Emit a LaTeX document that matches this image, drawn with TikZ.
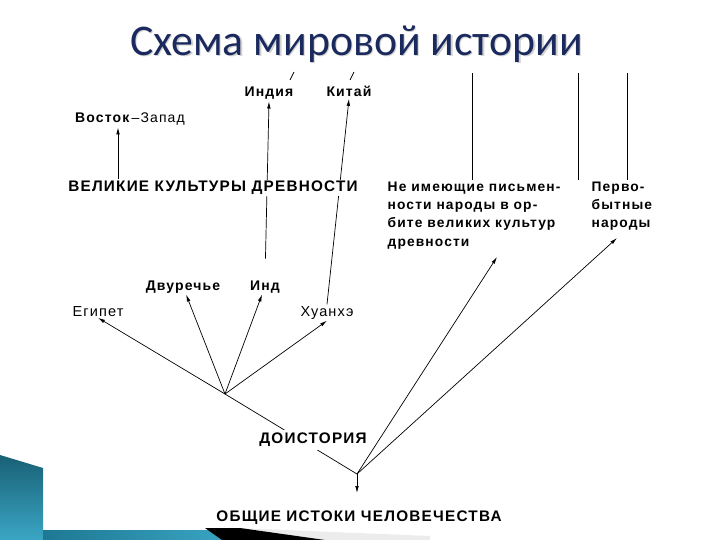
\documentclass[tikz,border=0pt]{standalone}
\usepackage{fontspec}
\usepackage{tikz}
\usetikzlibrary{positioning,arrows.meta}
\usepackage{xcolor}
\newfontfamily\titlefont{Carlito}
\newfontfamily\labfont[LetterSpace=8]{Liberation Sans}
\definecolor{titlenavy}{HTML}{1B2A5E}
\definecolor{slideteal}{HTML}{1E7893}
\definecolor{lightteal}{HTML}{3AA6C4}

\begin{document}
\begin{tikzpicture}[
    x=1pt, y=-1pt,
    every node/.style={inner sep=1.5pt},
    bigcap/.style={font=\labfont\bfseries\fontsize{15.3}{18}\selectfont},
    lab/.style={font=\labfont\bfseries\fontsize{14}{16}\selectfont, anchor=base},
    labthin/.style={font=\labfont\fontsize{14.5}{16}\selectfont, anchor=base},
    para/.style={font=\labfont\bfseries\fontsize{13.8}{18.3}\selectfont, align=left, anchor=north west},
    arr/.style={-{Latex[length=7pt,width=3.6pt]}, line width=0.7pt},
    link/.style={line width=0.7pt}
]
    % Page and slide decoration
    \fill[white] (0,0) rectangle (720,540);
    \useasboundingbox (0,0) rectangle (720,540);
    \shade[top color=slideteal!80!black, bottom color=lightteal] (0,455) -- (43,468) -- (43,540) -- (0,540) -- cycle;
    \shade[left color=slideteal, right color=lightteal] (43,530) -- (235,530) -- (235,540) -- (43,540) -- cycle;
    \fill[gray!15] (235,528) -- (430,536) -- (430,540) -- (320,540) -- cycle;
    \fill[black] (205,528) -- (240,528) -- (325,540) -- (222,540) -- cycle;

    % Title
    \node[font=\titlefont\fontsize{43.8}{48}\selectfont, text=black!35, opacity=0.5] at (358,45.5) {Схема мировой истории};
    \node (title) [font=\titlefont\fontsize{43.8}{48}\selectfont, text=titlenavy] at (356.5,44) {Схема мировой истории};

    % Branching points
    \coordinate (hub) at (225,394);
    \coordinate (root) at (357,474);

    % Lines drawn first so that the labels cover them
    \node (ind) [lab] at (265,290) {Инд};
    \node (huang) [labthin] at (327,316) {Хуанхэ};
    \node (india) [lab] at (269,97) {Индия};
    \node (china) [lab] at (349,97) {Китай};
    \draw[arr, shorten <=20pt] (ind.north) -- (india.south);
    \draw[arr] (huang.north) -- (china.south);
    \draw[link] (hub) -- (root);

    % Ancient cultures
    \node (great) [bigcap, fill=white] at (213,188) {ВЕЛИКИЕ КУЛЬТУРЫ ДРЕВНОСТИ};
    \node (eastwest) [lab] at (130,123) {Восток{\mdseries\,–Запад}};
    \draw[arr] (great.north -| 118,0) -- (eastwest.south -| 118,0);

    % Peoples without writing and primitive peoples
    \node (nonlit) [para] at (386,180) {Не имеющие письмен-\\ности народы в ор-\\бите великих культур\\древности};
    \node (primit) [para] at (590,180) {Перво-\\бытные\\народы};
    \coordinate (top1) at (472,73);
    \coordinate (top2) at (578,73);
    \coordinate (top3) at (627,73);
    \draw[link] (nonlit.north -| top1) -- (top1);
    \draw[link] (nonlit.north -| top2) -- (top2);
    \draw[link] (primit.north -| top3) -- (top3);
    \draw[link] (290,80) -- (294,72);
    \draw[link] (350,80) -- (354,72);

    % River cultures
    \node (egypt) [labthin] at (98,316) {Египет};
    \node (dvu) [lab] at (183,290) {Двуречье};
    \draw[arr] (hub) -- (egypt.south);
    \draw[arr] (hub) -- (dvu);
    \draw[arr] (hub) -- (ind);
    \draw[arr] (hub) -- (huang.south);

    % Prehistory and common origins
    \node (prehist) [bigcap, fill=white, inner sep=3pt] at (313,440) {ДОИСТОРИЯ};
    \node (origin) [bigcap] at (359,518) {ОБЩИЕ ИСТОКИ ЧЕЛОВЕЧЕСТВА};
    \draw[arr] (root) -- (497,257);
    \draw[arr] (root) -- (617,238);
    \draw[arr] (root) -- (357,493);

\end{tikzpicture}
\end{document}
